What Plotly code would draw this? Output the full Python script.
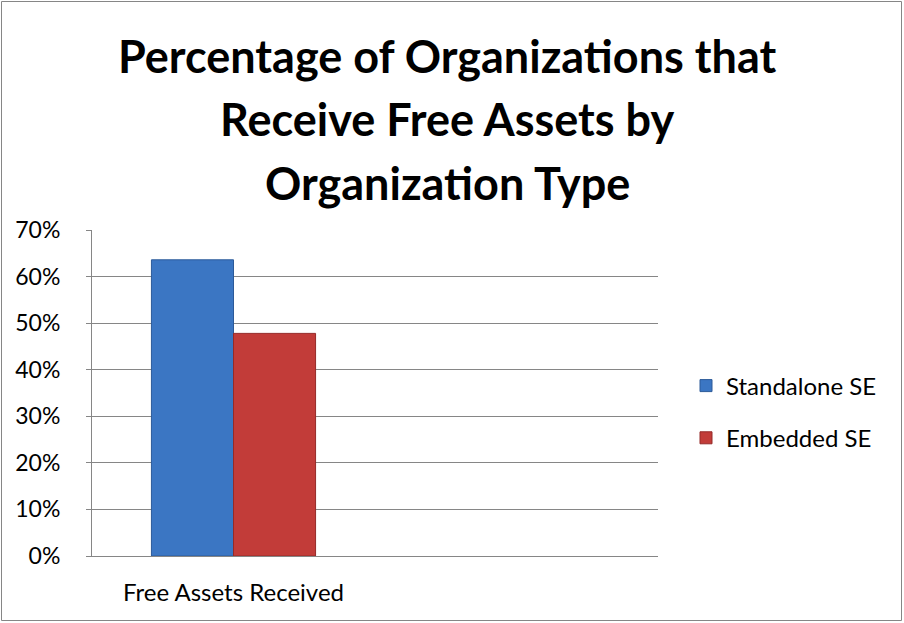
import plotly.graph_objects as go

# Chart data
categories = ["Free Assets Received", ""]
series_names = ["Standalone SE", "Embedded SE"]
standalone_values = [0.636, None]
embedded_values = [0.478, None]
y_tick_values = [0, 0.1, 0.2, 0.3, 0.4, 0.5, 0.6, 0.7]
y_tick_labels = ["0%", "10%", "20%", "30%", "40%", "50%", "60%", "70%"]
title_lines = [
    "Percentage of Organizations that",
    "Receive Free Assets by",
    "Organization Type",
]

W, H = 904, 623
ML, MR, MT, MB = 92, 246, 230, 67
PW, PH = W - ML - MR, H - MT - MB

x_positions = list(range(len(categories)))

fig = go.Figure()
fig.add_trace(go.Bar(
    x=x_positions, y=standalone_values, name=series_names[0],
    legendgroup="a",
    marker=dict(color="#3B76C3", line=dict(color="#2C5A99", width=1)),
))
fig.add_trace(go.Bar(
    x=x_positions, y=embedded_values, name=series_names[1],
    legendgroup="b",
    marker=dict(color="#C23C39", line=dict(color="#952A28", width=1)),
))

# Title drawn line by line for Excel-like spacing
title_y = [56, 119, 183]
for line, yp in zip(title_lines, title_y):
    fig.add_annotation(
        text=line, xref="paper", yref="paper",
        x=(W / 2 - 5 - ML) / PW, y=(H - MB - yp) / PH,
        xanchor="center", yanchor="middle", showarrow=False,
        font=dict(family="Lato", size=45, color="#000000", weight="bold"),
    )

# Outer chart border
fig.add_shape(
    type="rect", xref="paper", yref="paper",
    x0=(1.5 - ML) / PW, x1=(W - 2.5 - ML) / PW,
    y0=(H - MB - (H - 2.5)) / PH, y1=(H - MB - 1.5) / PH,
    line=dict(color="#868686", width=1), layer="below",
)

fig.update_layout(
    width=W, height=H,
    margin=dict(l=ML, r=MR, t=MT, b=MB, pad=0),
    paper_bgcolor="white", plot_bgcolor="white",
    barmode="group", bargap=0.42, bargroupgap=0,
    font=dict(family="Lato", size=23, color="#000000"),
    showlegend=True,
    legend=dict(
        x=(686 - ML) / PW, y=(H - MB - 412) / PH,
        xanchor="left", yanchor="middle",
        traceorder="grouped", tracegroupgap=18,
        font=dict(family="Lato", size=24, color="#000000"),
        bgcolor="rgba(0,0,0,0)",
    ),
    xaxis=dict(
        range=[-0.5, len(categories) - 0.5],
        tickmode="array", tickvals=x_positions, ticktext=categories,
        showgrid=False, zeroline=False,
        showline=True, linecolor="#868686", linewidth=1,
        ticks="", ticklabelstandoff=15,
        tickfont=dict(family="Lato", size=24),
    ),
    yaxis=dict(
        range=[0, 0.7],
        tickmode="array", tickvals=y_tick_values, ticktext=y_tick_labels,
        showgrid=True, gridcolor="#868686", gridwidth=1,
        zeroline=False,
        showline=True, linecolor="#868686", linewidth=1,
        ticks="outside", ticklen=5, tickcolor="#868686",
        ticklabelstandoff=21,
        tickfont=dict(family="Lato", size=23),
    ),
)

fig.write_html("out.html")
